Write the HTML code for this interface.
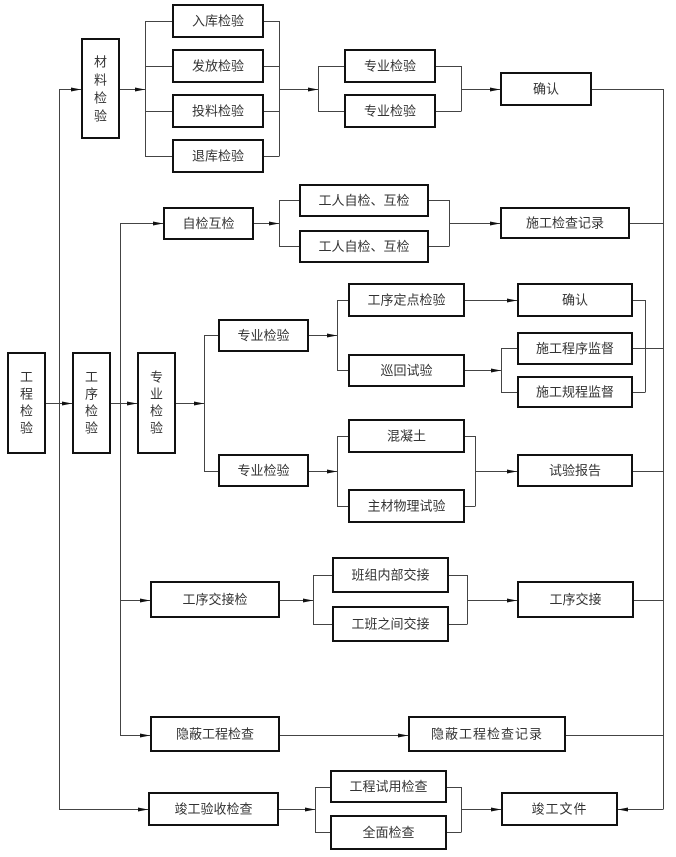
<!DOCTYPE html>
<html><head><meta charset="utf-8"><style>
html,body{margin:0;padding:0;background:#fff;}
svg{display:block;}
text{font-family:"Liberation Sans","Noto Sans CJK SC",sans-serif;font-size:13px;fill:#333;text-anchor:middle;dominant-baseline:central;}
.b{fill:#fff;stroke:#111;stroke-width:2;}
.l{stroke:#444;stroke-width:1;fill:none;}
.a{fill:#111;}
</style></head><body>
<svg width="676" height="857" viewBox="0 0 676 857" xmlns="http://www.w3.org/2000/svg">
<g class="l">
<path d="M59.5 89V809.5"/>
<path d="M59 89.5H81"/>
<path d="M46 403.5H72M111 403.5H137M176 403.5H204"/>
<path d="M204.5 335V471.5M204 335.5H218M204 471.5H218"/>
<path d="M120 89.5H145M145.5 21V156.5M145 21.5H172M145 66.5H172M145 111.5H172M145 156.5H172"/>
<path d="M264 21.5H279M264 66.5H279M264 111.5H279M264 156.5H279M279.5 21V156.5M279 89.5H318"/>
<path d="M318.5 66V111.5M318 66.5H344M318 111.5H344M436 66.5H461M436 111.5H461M461.5 66V111.5M461 89.5H500"/>
<path d="M592 89.5H663.5M663.5 89V809.5"/>
<path d="M120.5 223V735.5M120 223.5H163"/>
<path d="M254 223.5H279M279.5 200V246.5M279 200.5H299M279 246.5H299M429 200.5H449M429 246.5H449M449.5 200V246.5M449 223.5H500M630 223.5H663"/>
<path d="M309 335.5H337M337.5 300V370.5M337 300.5H348M337 370.5H348"/>
<path d="M465 300.5H517M465 370.5H501M501.5 348V392.5M501 348.5H517M501 392.5H517"/>
<path d="M633 300.5H645M633 392.5H645M645.5 300V392.5M633 348.5H663"/>
<path d="M309 471.5H337M337.5 436V506.5M337 436.5H348M337 506.5H348M465 436.5H475M465 506.5H475M475.5 436V506.5M475 471.5H517M633 471.5H663"/>
<path d="M120 600.5H150M280 600.5H313M313.5 575V624.5M313 575.5H332M313 624.5H332M449 575.5H467M449 624.5H467M467.5 575V624.5M467 600.5H517M634 600.5H663"/>
<path d="M120 735.5H150M280 735.5H408M566 735.5H663"/>
<path d="M59 809.5H148M279 809.5H315M315.5 787V832.5M315 787.5H330M315 832.5H330M447 787.5H461M447 832.5H461M461.5 787V832.5M461 809.5H501M618 809.5H663"/>
</g>
<g class="a">
<polygon points="81,89.5 71,87.5 71,91.5"/>
<polygon points="72,403.5 62,401.5 62,405.5"/>
<polygon points="137,403.5 127,401.5 127,405.5"/>
<polygon points="204,403.5 194,401.5 194,405.5"/>
<polygon points="145,89.5 135,87.5 135,91.5"/>
<polygon points="318,89.5 308,87.5 308,91.5"/>
<polygon points="500,89.5 490,87.5 490,91.5"/>
<polygon points="163,223.5 153,221.5 153,225.5"/>
<polygon points="279,223.5 269,221.5 269,225.5"/>
<polygon points="500,223.5 490,221.5 490,225.5"/>
<polygon points="337,335.5 327,333.5 327,337.5"/>
<polygon points="517,300.5 507,298.5 507,302.5"/>
<polygon points="501,370.5 491,368.5 491,372.5"/>
<polygon points="337,471.5 327,469.5 327,473.5"/>
<polygon points="517,471.5 507,469.5 507,473.5"/>
<polygon points="150,600.5 140,598.5 140,602.5"/>
<polygon points="313,600.5 303,598.5 303,602.5"/>
<polygon points="517,600.5 507,598.5 507,602.5"/>
<polygon points="150,735.5 140,733.5 140,737.5"/>
<polygon points="408,735.5 398,733.5 398,737.5"/>
<polygon points="148,809.5 138,807.5 138,811.5"/>
<polygon points="315,809.5 305,807.5 305,811.5"/>
<polygon points="501,809.5 491,807.5 491,811.5"/>
<polygon points="618,809.5 628,807.5 628,811.5"/>
</g>
<g>
<rect class="b" x="8" y="353" width="37" height="100"/>
<rect class="b" x="73" y="353" width="37" height="100"/>
<rect class="b" x="138" y="353" width="37" height="100"/>
<rect class="b" x="82" y="39" width="37" height="99"/>
<rect class="b" x="173" y="5" width="90" height="32"/>
<rect class="b" x="173" y="50" width="90" height="32"/>
<rect class="b" x="173" y="95" width="90" height="32"/>
<rect class="b" x="173" y="140" width="90" height="32"/>
<rect class="b" x="345" y="50" width="90" height="32"/>
<rect class="b" x="345" y="95" width="90" height="32"/>
<rect class="b" x="501" y="73" width="90" height="32"/>
<rect class="b" x="164" y="208" width="89" height="31"/>
<rect class="b" x="300" y="185" width="128" height="31"/>
<rect class="b" x="300" y="231" width="128" height="31"/>
<rect class="b" x="501" y="208" width="128" height="30"/>
<rect class="b" x="219" y="320" width="89" height="31"/>
<rect class="b" x="219" y="455" width="89" height="31"/>
<rect class="b" x="349" y="284" width="115" height="32"/>
<rect class="b" x="349" y="355" width="115" height="31"/>
<rect class="b" x="518" y="284" width="114" height="32"/>
<rect class="b" x="518" y="333" width="114" height="31"/>
<rect class="b" x="518" y="377" width="114" height="30"/>
<rect class="b" x="349" y="420" width="115" height="32"/>
<rect class="b" x="349" y="490" width="115" height="32"/>
<rect class="b" x="518" y="455" width="114" height="31"/>
<rect class="b" x="151" y="582" width="128" height="35"/>
<rect class="b" x="333" y="558" width="115" height="34"/>
<rect class="b" x="333" y="607" width="115" height="34"/>
<rect class="b" x="518" y="582" width="115" height="35"/>
<rect class="b" x="151" y="717" width="128" height="34"/>
<rect class="b" x="409" y="717" width="156" height="34"/>
<rect class="b" x="149" y="793" width="129" height="32"/>
<rect class="b" x="331" y="771" width="115" height="31"/>
<rect class="b" x="331" y="816" width="115" height="33"/>
<rect class="b" x="502" y="793" width="115" height="32"/>
</g>
<g>
<text x="26.5" y="377">工</text><text x="26.5" y="394">程</text><text x="26.5" y="411">检</text><text x="26.5" y="428">验</text>
<text x="91.5" y="377">工</text><text x="91.5" y="394">序</text><text x="91.5" y="411">检</text><text x="91.5" y="428">验</text>
<text x="156.5" y="377">专</text><text x="156.5" y="394">业</text><text x="156.5" y="411">检</text><text x="156.5" y="428">验</text>
<text x="100.5" y="62">材</text><text x="100.5" y="80">料</text><text x="100.5" y="98">检</text><text x="100.5" y="116">验</text>
<text x="218" y="21">入库检验</text>
<text x="218" y="66">发放检验</text>
<text x="218" y="111">投料检验</text>
<text x="218" y="156">退库检验</text>
<text x="390" y="66">专业检验</text>
<text x="390" y="111">专业检验</text>
<text x="546" y="89">确认</text>
<text x="208.5" y="223.5">自检互检</text>
<text x="364" y="200.5">工人自检、互检</text>
<text x="364" y="246.5">工人自检、互检</text>
<text x="565" y="223">施工检查记录</text>
<text x="263.5" y="335.5">专业检验</text>
<text x="263.5" y="470.5">专业检验</text>
<text x="406.5" y="300">工序定点检验</text>
<text x="406.5" y="370.5">巡回试验</text>
<text x="575" y="300">确认</text>
<text x="575" y="348.5">施工程序监督</text>
<text x="575" y="392">施工规程监督</text>
<text x="406.5" y="436">混凝土</text>
<text x="406.5" y="506">主材物理试验</text>
<text x="575" y="470.5">试验报告</text>
<text x="215" y="599.5">工序交接检</text>
<text x="390.5" y="575">班组内部交接</text>
<text x="390.5" y="624">工班之间交接</text>
<text x="575.5" y="599.5">工序交接</text>
<text x="215" y="734">隐蔽工程检查</text>
<text x="487" y="734" style="letter-spacing:1px">隐蔽工程检查记录</text>
<text x="213.5" y="809">竣工验收检查</text>
<text x="388.5" y="786.5">工程试用检查</text>
<text x="388.5" y="832.5">全面检查</text>
<text x="559.5" y="809" style="letter-spacing:1px">竣工文件</text>
</g>
</svg>
</body></html>
